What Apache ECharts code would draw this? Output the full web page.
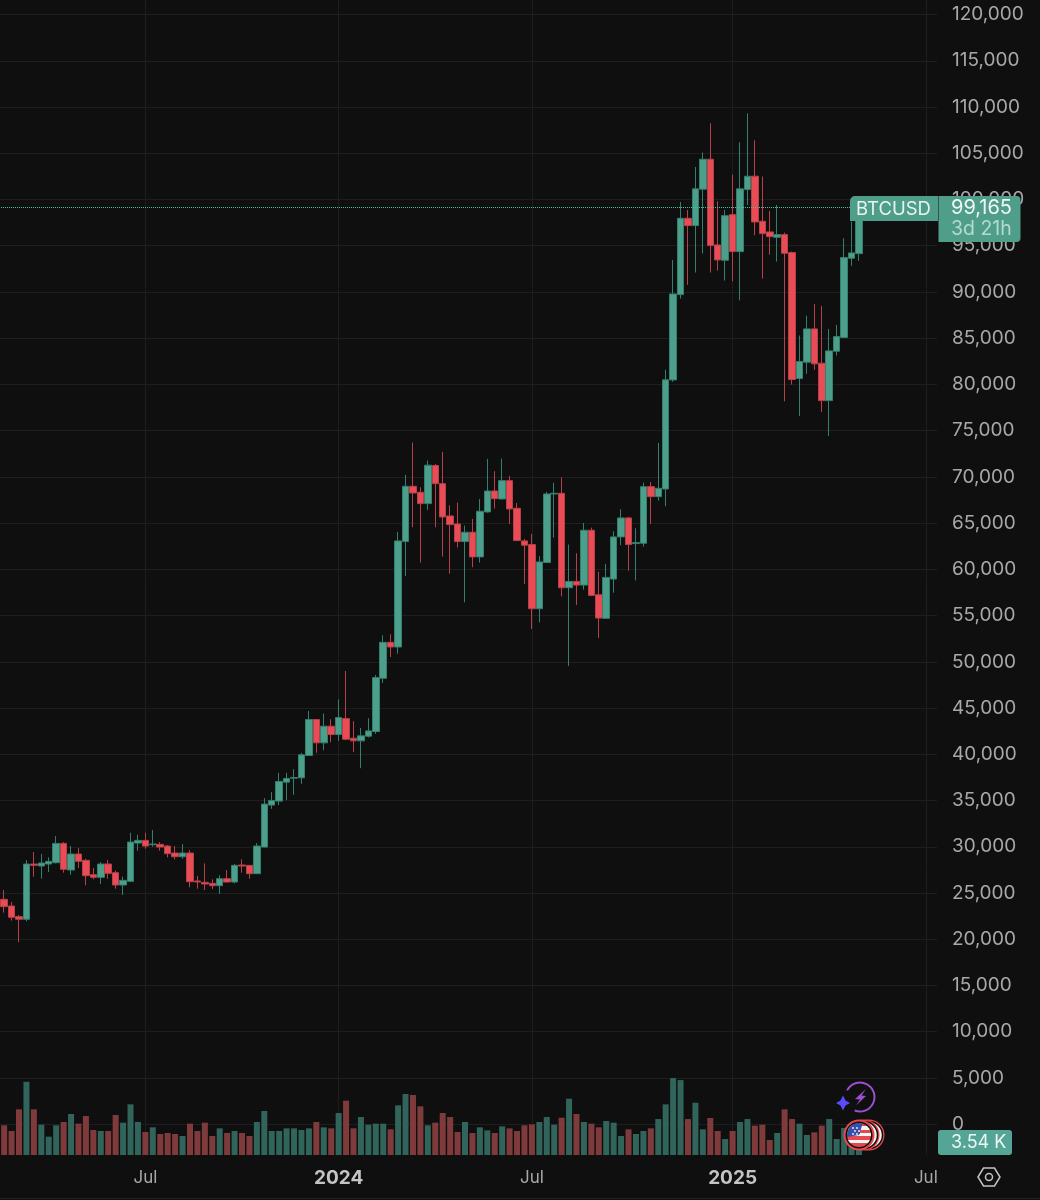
<!DOCTYPE html>
<html>
<head>
<meta charset="utf-8">
<script src="https://cdn.jsdelivr.net/npm/echarts@6/dist/echarts.min.js"></script>
<style>
html, body { margin: 0; padding: 0; background: #0f0f0f; }
#chart { width: 1040px; height: 1200px; }
</style>
</head>
<body>
<div id="chart"></div>
<script>
// weekly bars, first one is the week of 2023-02-13
var firstWeek = '2023-02-13';
var weekCount = 127;

var opens = [21724,24316,23596,22444,22156,28132,27916,28132,28276,30364,27484,29212,28528,26980,26692,28132,27196,25864,26260,30400,30688,30220,30256,30076,29320,28924,29320,26296,26152,26044,25792,26548,26188,28024,27988,27088,29968,34504,34936,36988,37420,37456,39868,43756,41236,43036,42136,43864,41740,41452,41956,42460,48220,52108,51604,63004,68980,68332,67108,71227,69268,65776,64912,63004,64012,61348,66208,68476,67612,69592,66604,63076,62680,55744,60736,68152,68224,58012,58696,58300,64228,57256,54700,58948,63508,65560,62788,62824,68944,67864,68692,80490,89710,97964,97172,101111,104351,95084,93428,98360,94364,101075,102515,97640,96488,95912,96200,94256,80638,82402,86002,82294,78247,83590,85066,93644,94148];
var closes = [23956,23524,22372,22156,28132,27988,28240,28420,30364,27556,29212,28420,26872,26692,28132,27124,25864,26368,30508,30688,30076,30292,29968,29248,28924,29320,26224,26188,25972,25792,26548,26188,27988,27916,27088,30076,34612,35008,37060,37384,37492,39940,43756,41236,43036,42136,43972,41632,41452,41992,42532,48292,52108,51604,63076,68980,68260,67108,71263,69268,65668,64840,63004,64012,61348,66280,68476,67648,69592,66532,63112,62608,55744,60808,68152,68224,58012,58696,58300,64228,57184,54736,59128,63508,65560,62680,62896,68944,67864,68764,80494,89782,97964,97172,101147,104351,95012,93464,98252,94364,101147,102515,97568,96308,95984,96200,94184,80530,82474,86002,82222,78247,83626,85174,93716,94220,99165];
var highs = [24532,25324,24028,22624,28564,29428,29212,28852,31156,30508,30076,29860,28708,27700,28348,28564,27412,26764,31516,31300,31516,31804,30508,30184,30076,30292,29644,26836,28204,26476,26908,27484,28132,28636,28024,30400,35260,35908,37996,37996,38392,40156,44692,43792,44404,43792,45952,49012,43576,42856,43900,48580,52864,52972,64048,70219,73711,68872,71767,71375,72703,66928,67216,64732,65452,67612,71947,70615,71983,70111,67180,63292,63832,61420,68368,69376,69952,62680,61744,65020,64516,59740,60592,64120,66496,65668,64444,69376,69448,73675,81574,93464,99728,98864,103523,105071,108239,99800,98864,102695,106187,109319,106403,102479,98756,99404,96416,94364,85282,87442,88702,88486,86002,86434,95804,97600,100100];
var lows = [21364,22876,22012,19672,21940,26764,26548,27268,28204,27196,26980,27700,25828,26476,25972,26548,25468,24784,26188,29572,29788,30004,29572,28852,28636,28708,25612,25468,25324,25432,24892,26116,26044,27196,26548,27052,29932,34108,34504,35044,35620,36808,39832,40156,40444,41308,41452,41524,40228,38500,41812,42208,47716,50524,50884,59272,64552,60736,66424,64552,61384,59524,62356,56428,60232,60736,66136,66568,67576,64912,63076,58408,53548,54268,60700,63436,57076,49552,56140,57796,57100,52576,54628,57472,62608,59848,58804,62464,64912,67432,66820,80278,89278,90764,92100,94148,92100,92312,91232,91160,89098,99404,96128,91448,94040,93284,78175,79975,76591,81142,81574,77023,74431,83122,85066,92816,93356];
// volume, thousands
var volumes = [9.5,8.75,7.08,13.47,21.6,13.47,8.95,5.41,8.75,9.73,12.09,9.24,11.5,7.37,7.08,7.08,11.8,9.54,14.94,9.73,6.78,8.16,6.19,6.49,6.19,5.6,9.24,7.08,9.54,5.6,7.86,6.49,7.08,6.49,5.6,9.73,12.98,7.08,7.08,7.86,7.86,7.37,7.86,9.73,8.16,7.86,12.39,16.02,7.86,11.2,8.95,9.24,9.24,7.57,14.65,17.99,17.69,14.35,8.75,9.54,12.39,11.2,6.78,9.73,6.49,8.16,7.27,6.49,8.45,7.86,7.08,8.75,9.04,9.73,11.2,8.95,11,16.6,12.09,9.73,9.24,8.16,10.03,9.54,5.6,7.57,6.19,7.08,7.86,10.6,14.94,22.7,22.1,10.6,15.43,7.57,10.91,7.08,4.72,7.08,9.73,10.6,8.65,8.95,4.42,6.49,13.47,10.6,9.24,5.9,6.68,8.65,10.6,4.72,8,6,3.54];

var tickLabels = {
    '2023-07-03': 'Jul',
    '2024-01-01': '{year|2024}',
    '2024-07-01': 'Jul',
    '2025-01-06': '{year|2025}',
    '2025-07-07': 'Jul'
};
var priceLine = 99165;
var lastPriceText = '99,165';
var countdownText = '3d 21h';
var volumeText = '3.54 K';
var symbolText = 'BTCUSD';

var FONT = 'Inter, "Noto Sans", sans-serif';
var BG = '#0f0f0f';
var GRID = '#1e1e1e';
var UP = '#4c9f8a';
var DOWN = '#ea4c55';
var UP_WICK = '#33806e';
var DOWN_WICK = '#b8404a';
var UP_VOL = '#31645b';
var DOWN_VOL = '#7f3b3c';
var PILL = '#4f9e8a';

var categories = [];
for (var i = 0; i < weekCount; i++) {
    var d = new Date(Date.parse(firstWeek + 'T00:00:00Z') + i * 7 * 86400000);
    categories.push(d.toISOString().slice(0, 10));
}

var candleData = opens.map(function (o, i) {
    return [o, closes[i], lows[i], highs[i]];
});
var volumeData = volumes.map(function (v, i) {
    return {
        value: v,
        itemStyle: { color: closes[i] >= opens[i] ? UP_VOL : DOWN_VOL }
    };
});

function isTick(index, value) {
    return tickLabels[value] !== undefined;
}

var chart = echarts.init(document.getElementById('chart'), null, { renderer: 'canvas' });

var option = {
    backgroundColor: BG,
    animation: false,
    grid: [
        // volume sits in the full height pane, carries the time axis
        { left: -7, right: 103, top: 0, bottom: 45, outerBoundsMode: 'none' },
        // price pane runs -5000..125000 so the ticks fall on round values
        { left: -7, right: 103, top: -31.7, bottom: 29.6, outerBoundsMode: 'none' }
    ],
    xAxis: [{
        type: 'category',
        gridIndex: 0,
        data: categories,
        boundaryGap: true,
        axisLine: { show: false },
        axisTick: { show: false },
        splitLine: {
            show: true,
            alignWithLabel: true,
            interval: isTick,
            lineStyle: { color: GRID, width: 1 }
        },
        axisLabel: {
            interval: isTick,
            margin: 14,
            fontFamily: FONT,
            fontSize: 17,
            color: '#a8a8a8',
            formatter: function (value) {
                return tickLabels[value];
            },
            rich: {
                year: { fontFamily: FONT, fontSize: 19, fontWeight: 'bold', color: '#c4c4c4' }
            }
        }
    }, {
        type: 'category',
        gridIndex: 1,
        data: categories,
        boundaryGap: true,
        show: false
    }],
    yAxis: [{
        type: 'value',
        gridIndex: 0,
        min: 0,
        max: 340.7,
        show: false
    }, {
        type: 'value',
        gridIndex: 1,
        position: 'right',
        min: -5000,
        max: 125000,
        interval: 5000,
        axisLine: { show: false },
        axisTick: { show: false },
        splitLine: {
            show: true,
            showMinLine: false,
            showMaxLine: false,
            lineStyle: { color: GRID, width: 1 }
        },
        axisLabel: {
            margin: 15,
            align: 'left',
            fontFamily: FONT,
            fontSize: 19,
            color: '#a8a8a8',
            showMinLabel: false,
            showMaxLabel: false,
            formatter: function (v) {
                return v < 0 || v > 120000 ? '' : v.toLocaleString('en-US');
            }
        }
    }],
    series: [{
        name: 'Volume',
        type: 'bar',
        xAxisIndex: 0,
        yAxisIndex: 0,
        barWidth: 6,
        data: volumeData,
        z: 2
    }, {
        name: 'BTCUSD',
        type: 'candlestick',
        xAxisIndex: 1,
        yAxisIndex: 1,
        barWidth: 7,
        data: candleData,
        itemStyle: {
            color: UP,
            color0: DOWN,
            borderColor: UP_WICK,
            borderColor0: DOWN_WICK,
            borderWidth: 1
        },
        markLine: {
            silent: true,
            symbol: 'none',
            label: { show: false },
            lineStyle: { color: '#45c0a4', type: 'dotted', width: 1 },
            data: [{ yAxis: priceLine }]
        },
        z: 3
    }],
    graphic: { elements: buildOverlay() }
};

// price tags, event badges and the settings icon on top of the chart
function buildOverlay() {
    var text = function (x, y, str, size, color) {
        return {
            type: 'text', x: x, y: y, z: 30,
            style: { text: str, fontFamily: FONT, fontSize: size, fill: color, verticalAlign: 'middle', align: 'left' }
        };
    };
    var ring = function (cx) {
        return {
            type: 'circle', z: 24,
            shape: { cx: cx, cy: 1135, r: 14.5 },
            style: { fill: '#f4f4f4', stroke: '#e5484d', lineWidth: 2 }
        };
    };
    var gap = function (cx, z) {
        return { type: 'circle', z: z, shape: { cx: cx, cy: 1135, r: 13.5 }, style: { fill: 'none', stroke: '#0f0f0f', lineWidth: 1.5 } };
    };
    var flagStripes = new echarts.graphic.LinearGradient(0, 0, 0, 1, [
        { offset: 0, color: '#e5484d' }, { offset: 0.14, color: '#e5484d' },
        { offset: 0.14, color: '#f4f4f4' }, { offset: 0.28, color: '#f4f4f4' },
        { offset: 0.28, color: '#e5484d' }, { offset: 0.42, color: '#e5484d' },
        { offset: 0.42, color: '#f4f4f4' }, { offset: 0.56, color: '#f4f4f4' },
        { offset: 0.56, color: '#e5484d' }, { offset: 0.7, color: '#e5484d' },
        { offset: 0.7, color: '#f4f4f4' }, { offset: 0.84, color: '#f4f4f4' },
        { offset: 0.84, color: '#e5484d' }, { offset: 1, color: '#e5484d' }
    ]);
    var els = [
        // symbol and price tags
        { type: 'rect', z: 28, shape: { x: 850, y: 196, width: 88, height: 25, r: [5, 0, 0, 0] }, style: { fill: PILL } },
        { type: 'rect', z: 28, shape: { x: 938.5, y: 196, width: 82, height: 46, r: [0, 4, 4, 0] }, style: { fill: PILL } },
        { type: 'rect', z: 28, shape: { x: 938, y: 1130, width: 74, height: 25, r: 3 }, style: { fill: '#55a596' } },
        text(856, 209, symbolText, 18.5, '#e8f4f0'),
        text(951, 208, lastPriceText, 20, '#eef7f4'),
        text(951, 229, countdownText, 19.5, '#b4dbd0'),
        text(951, 1143, volumeText, 18, '#eef7f4'),
        // lightning badge
        {
            type: 'arc', z: 24,
            shape: { cx: 860, cy: 1097, r: 14.5, startAngle: -Math.PI * 0.85, endAngle: Math.PI * 0.62, clockwise: true },
            style: { fill: 'none', stroke: '#9b4fd0', lineWidth: 2 }
        },
        {
            type: 'polygon', z: 24,
            shape: { points: [[866, 1089], [855, 1099], [860, 1099.5], [856, 1105.5], [866, 1096], [861.5, 1095.5]] },
            style: { fill: '#9b4fd0' }
        },
        {
            type: 'polygon', z: 25,
            shape: { points: [[843, 1095.5], [845.5, 1100.5], [850, 1103], [845.5, 1105.5], [843, 1110.5], [840.5, 1105.5], [836, 1103], [840.5, 1100.5]] },
            style: { fill: '#5b4bff' }
        },
        // event badges, stacked
        ring(869),
        gap(869, 24),
        ring(864),
        gap(864, 24),
        { type: 'circle', z: 25, shape: { cx: 859, cy: 1135, r: 15.5 }, style: { fill: '#e5484d' } },
        { type: 'circle', z: 25, shape: { cx: 859, cy: 1135, r: 13.5 }, style: { fill: '#0f0f0f' } },
        { type: 'circle', z: 26, shape: { cx: 859, cy: 1135, r: 12 }, style: { fill: flagStripes } },
        { type: 'sector', z: 26, shape: { cx: 859, cy: 1135, r0: 0, r: 12, startAngle: Math.PI * 0.95, endAngle: Math.PI * 1.6 }, style: { fill: '#3a4fa8' } },
        { type: 'rect', z: 26, shape: { x: 851, y: 1125, width: 9, height: 9 }, style: { fill: '#3a4fa8' } },
        // settings icon
        {
            type: 'polygon', z: 24,
            shape: { points: [[978, 1177], [983.5, 1168], [994.5, 1168], [1000, 1177], [994.5, 1186], [983.5, 1186]] },
            style: { fill: 'none', stroke: '#c4c4c4', lineWidth: 1.5 }
        },
        { type: 'circle', z: 24, shape: { cx: 989, cy: 1177, r: 3.5 }, style: { fill: 'none', stroke: '#c4c4c4', lineWidth: 1.5 } },
        { type: 'line', z: 1, shape: { x1: 0, y1: 1198.5, x2: 1040, y2: 1198.5 }, style: { stroke: '#232323', lineWidth: 1 } }
    ];
    // stars of the flag
    [[853, 1128], [857, 1128], [855, 1131], [853, 1134], [857, 1134], [859, 1131]].forEach(function (p) {
        els.push({ type: 'circle', z: 27, shape: { cx: p[0], cy: p[1], r: 0.9 }, style: { fill: '#f4f4f4' } });
    });
    return els;
}

chart.setOption(option);
</script>
</body>
</html>
